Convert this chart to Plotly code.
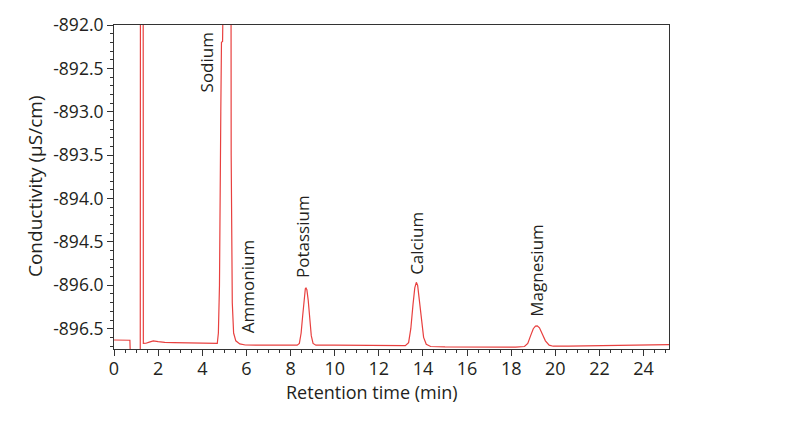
import plotly.graph_objects as go

# Chromatogram readings: retention time (min) and conductivity (µS/cm, real values)
time_min = [0.00, 0.30, 0.50, 0.72, 0.74, 1.19, 1.21, 1.31, 1.33, 1.45, 1.60, 1.78, 2.00, 2.30,
            2.70, 3.20, 3.70, 3.95, 4.40, 4.68, 4.73, 4.78, 4.84, 4.87, 4.92, 4.93, 5.28, 5.31,
            5.36, 5.42, 5.52, 5.70, 5.95, 6.50, 7.20, 7.80, 8.30, 8.40, 8.48, 8.55, 8.62, 8.67,
            8.70, 8.74, 8.80, 8.87, 8.94, 9.02, 9.15, 10.0, 10.8, 11.5, 12.3, 13.0, 13.20, 13.35,
            13.45, 13.55, 13.63, 13.70, 13.76, 13.84, 13.93, 14.03, 14.15, 14.35, 15.0, 15.8,
            16.6, 17.4, 18.2, 18.60, 18.75, 18.88, 19.00, 19.10, 19.18, 19.28, 19.40, 19.55,
            19.72, 19.90, 20.6, 21.4, 21.9, 22.8, 23.6, 24.2, 25.2]
conductivity = [-896.630, -896.628, -896.635, -896.633, -896.80, -896.80, -885.0, -885.0,
                -896.670, -896.668, -896.655, -896.641, -896.650, -896.658, -896.660, -896.662,
                -896.664, -896.670, -896.672, -896.670, -896.55, -896.0, -893.0, -892.2,
                -892.19, -885.0, -885.0, -893.5, -896.2, -896.55, -896.64, -896.675, -896.688,
                -896.690, -896.690, -896.690, -896.690, -896.670, -896.55, -896.35, -896.13,
                -896.04, -896.031, -896.05, -896.17, -896.40, -896.58, -896.67, -896.690,
                -896.690, -896.692, -896.693, -896.694, -896.695, -896.695, -896.66, -896.50,
                -896.22, -896.03, -895.966, -896.00, -896.18, -896.42, -896.60, -896.68,
                -896.705, -896.710, -896.712, -896.713, -896.714, -896.712, -896.705, -896.67,
                -896.58, -896.50, -896.47, -896.467, -896.49, -896.56, -896.64, -896.69,
                -896.702, -896.702, -896.700, -896.696, -896.695, -896.692, -896.686, -896.684]

# Peak labels: retention time and the conductivity the label sits on
peak_names = ["Sodium", "Ammonium", "Potassium", "Calcium", "Magnesium"]
peak_label_time = [4.17, 6.05, 8.54, 13.73, 19.14]
peak_label_cond = [-892.80, -896.69, -896.031, -895.966, -896.467]

# Y axis with a break between -894.5 and -896.0
y_tick_real = [-892.0, -892.5, -893.0, -893.5, -894.0, -894.5, -896.0, -896.5]
x_ticks = [0, 2, 4, 6, 8, 10, 12, 14, 16, 18, 20, 22, 24]


def to_display(v):
    # compress the broken-axis gap: the lower part is shifted up by 1.0
    if v <= -895.6:
        return v + 1.0
    if v >= -894.5:
        return v
    return -894.6 + (v + 895.6) * (0.1 / 1.1)


y_disp = [to_display(v) for v in conductivity]
y_tick_disp = [to_display(v) for v in y_tick_real]
y_tick_text = ["%.1f" % v for v in y_tick_real]

FONT = "Open Sans"
TXT = "#231f20"
RED = "#e8403f"

fig = go.Figure()
fig.add_trace(go.Scatter(x=time_min, y=y_disp, mode="lines",
                         line=dict(color=RED, width=1.2), hoverinfo="skip",
                         showlegend=False))

label_shift = [0, 10, 8, 6, 7]
for name, t, c, s in zip(peak_names, peak_label_time, peak_label_cond, label_shift):
    fig.add_annotation(x=t, y=to_display(c), text=name, textangle=-90,
                       showarrow=False, xanchor="center", yanchor="bottom", yshift=s,
                       font=dict(family=FONT, size=17, color=TXT))

# axis titles
fig.add_annotation(x=(372 - 114) / 555, y=(426 - 77 - 393) / 334, xref="paper", yref="paper",
                   text="Retention time (min)", showarrow=False,
                   xanchor="center", yanchor="middle",
                   font=dict(family=FONT, size=18, color=TXT))
fig.add_annotation(x=(35 - 114) / 555, y=(426 - 77 - 181) / 334, xref="paper", yref="paper",
                   text="Conductivity (µS/cm)",
                   showarrow=False, textangle=-90, xanchor="center", yanchor="middle",
                   font=dict(family=FONT, size=19, color=TXT))

fig.update_layout(
    width=800, height=426,
    margin=dict(l=114, r=131, t=15, b=77),
    paper_bgcolor="white", plot_bgcolor="white",
    font=dict(family=FONT, size=17, color=TXT),
    showlegend=False,
)

fig.update_xaxes(range=[0, 25.15], tickvals=x_ticks, ticktext=[str(v) for v in x_ticks],
                 showgrid=False, zeroline=False, showline=True, linecolor="#333",
                 linewidth=1, mirror=True, ticks="outside", ticklen=6, tickcolor="#333",
                 ticklabelstandoff=-3,
                 tickfont=dict(family=FONT, size=18, color=TXT),
                 minor=dict(dtick=0.5, tick0=0, ticks="outside", ticklen=3,
                            tickcolor="#333", showgrid=False))
fig.update_yaxes(range=[-895.734, -892.0], tickvals=y_tick_disp, ticktext=y_tick_text,
                 showgrid=False, zeroline=False, showline=True, linecolor="#333",
                 linewidth=1, mirror=True, ticks="outside", ticklen=6, tickcolor="#333",
                 tickfont=dict(family=FONT, size=17.5, color=TXT),
                 minor=dict(dtick=0.1, tick0=-892.0, ticks="outside", ticklen=3,
                            tickcolor="#333", showgrid=False))

fig.write_html("out.html")
